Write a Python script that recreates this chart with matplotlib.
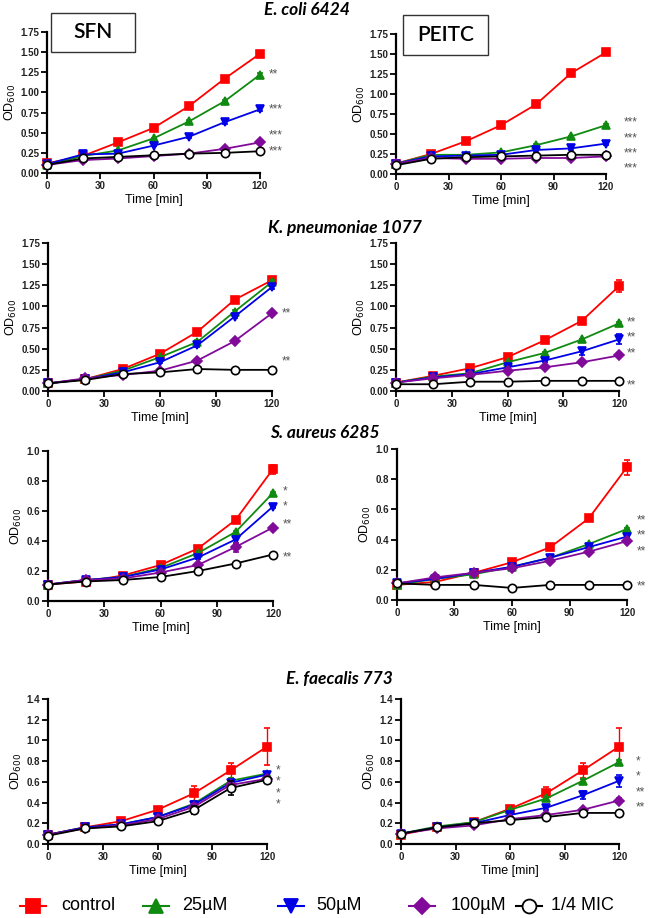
import matplotlib
matplotlib.use("Agg")
import matplotlib.pyplot as plt
from matplotlib.patches import Rectangle
from matplotlib.lines import Line2D

# time points [min]
times = [0, 20, 40, 60, 80, 100, 120]
series_names = ["control", "25\u00b5M", "50\u00b5M", "100\u00b5M", "1/4 MIC"]

# OD600 per panel, rows: control, 25uM, 50uM, 100uM, 1/4 MIC
ecoli_sfn = [
    [0.12, 0.21, 0.38, 0.56, 0.83, 1.17, 1.48],
    [0.10, 0.21, 0.28, 0.43, 0.64, 0.89, 1.22],
    [0.11, 0.23, 0.24, 0.34, 0.45, 0.63, 0.79],
    [0.10, 0.16, 0.18, 0.21, 0.24, 0.30, 0.38],
    [0.10, 0.18, 0.20, 0.22, 0.24, 0.25, 0.27],
]
ecoli_peitc = [
    [0.13, 0.25, 0.41, 0.61, 0.87, 1.26, 1.52],
    [0.13, 0.24, 0.24, 0.27, 0.36, 0.47, 0.61],
    [0.13, 0.22, 0.23, 0.24, 0.30, 0.32, 0.38],
    [0.13, 0.20, 0.19, 0.19, 0.20, 0.20, 0.22],
    [0.11, 0.19, 0.21, 0.22, 0.23, 0.24, 0.24],
]
kpn_sfn = [
    [0.09, 0.14, 0.26, 0.44, 0.70, 1.08, 1.31],
    [0.09, 0.14, 0.24, 0.40, 0.58, 0.94, 1.29],
    [0.09, 0.14, 0.22, 0.34, 0.54, 0.88, 1.23],
    [0.09, 0.15, 0.19, 0.24, 0.36, 0.59, 0.92],
    [0.09, 0.13, 0.20, 0.22, 0.26, 0.25, 0.25],
]
kpn_peitc = [
    [0.10, 0.18, 0.27, 0.40, 0.60, 0.83, 1.24],
    [0.10, 0.17, 0.21, 0.34, 0.45, 0.61, 0.80],
    [0.10, 0.16, 0.20, 0.28, 0.36, 0.47, 0.61],
    [0.10, 0.15, 0.19, 0.24, 0.28, 0.34, 0.42],
    [0.08, 0.08, 0.11, 0.11, 0.12, 0.12, 0.12],
]
saur_sfn = [
    [0.11, 0.13, 0.17, 0.24, 0.35, 0.54, 0.88],
    [0.11, 0.14, 0.16, 0.22, 0.32, 0.46, 0.72],
    [0.11, 0.14, 0.16, 0.21, 0.29, 0.41, 0.63],
    [0.11, 0.14, 0.15, 0.19, 0.24, 0.36, 0.49],
    [0.11, 0.13, 0.14, 0.16, 0.20, 0.25, 0.31],
]
saur_peitc = [
    [0.10, 0.12, 0.18, 0.25, 0.35, 0.54, 0.88],
    [0.10, 0.14, 0.17, 0.22, 0.28, 0.37, 0.47],
    [0.11, 0.14, 0.18, 0.22, 0.28, 0.35, 0.42],
    [0.11, 0.15, 0.18, 0.21, 0.26, 0.32, 0.39],
    [0.11, 0.10, 0.10, 0.08, 0.10, 0.10, 0.10],
]
efae_sfn = [
    [0.09, 0.16, 0.22, 0.33, 0.49, 0.71, 0.94],
    [0.09, 0.16, 0.19, 0.26, 0.39, 0.61, 0.68],
    [0.09, 0.16, 0.19, 0.26, 0.38, 0.59, 0.67],
    [0.09, 0.15, 0.18, 0.24, 0.36, 0.57, 0.63],
    [0.08, 0.15, 0.17, 0.22, 0.33, 0.54, 0.62],
]
efae_peitc = [
    [0.09, 0.16, 0.21, 0.34, 0.49, 0.71, 0.94],
    [0.10, 0.17, 0.21, 0.33, 0.44, 0.61, 0.79],
    [0.10, 0.16, 0.20, 0.28, 0.35, 0.47, 0.61],
    [0.10, 0.15, 0.18, 0.24, 0.28, 0.33, 0.42],
    [0.10, 0.16, 0.20, 0.23, 0.26, 0.30, 0.30],
]

# SEM error bars (same layout)
ecoli_sfn_err = [
    [0.01, 0.01, 0.02, 0.02, 0.02, 0.04, 0.02],
    [0.01, 0.01, 0.01, 0.01, 0.02, 0.02, 0.02],
    [0.01, 0.01, 0.01, 0.01, 0.01, 0.02, 0.02],
    [0.01, 0.01, 0.01, 0.01, 0.01, 0.01, 0.01],
    [0.01, 0.01, 0.01, 0.01, 0.01, 0.01, 0.01],
]
ecoli_peitc_err = [
    [0.01, 0.01, 0.02, 0.02, 0.02, 0.02, 0.03],
    [0.01, 0.01, 0.01, 0.01, 0.01, 0.01, 0.02],
    [0.01, 0.01, 0.01, 0.01, 0.02, 0.02, 0.02],
    [0.01, 0.01, 0.01, 0.01, 0.01, 0.01, 0.01],
    [0.01, 0.01, 0.01, 0.01, 0.01, 0.02, 0.01],
]
kpn_sfn_err = [
    [0.01, 0.01, 0.01, 0.02, 0.02, 0.03, 0.02],
    [0.01, 0.01, 0.01, 0.01, 0.02, 0.02, 0.02],
    [0.01, 0.01, 0.01, 0.01, 0.02, 0.02, 0.02],
    [0.01, 0.01, 0.01, 0.01, 0.01, 0.01, 0.01],
    [0.01, 0.01, 0.01, 0.01, 0.01, 0.01, 0.01],
]
kpn_peitc_err = [
    [0.01, 0.01, 0.01, 0.02, 0.02, 0.03, 0.07],
    [0.01, 0.01, 0.01, 0.01, 0.01, 0.01, 0.02],
    [0.01, 0.01, 0.01, 0.01, 0.02, 0.04, 0.06],
    [0.01, 0.01, 0.01, 0.01, 0.01, 0.01, 0.02],
    [0.01, 0.01, 0.01, 0.01, 0.01, 0.01, 0.01],
]
saur_sfn_err = [
    [0.01, 0.01, 0.01, 0.01, 0.01, 0.02, 0.03],
    [0.01, 0.01, 0.01, 0.01, 0.01, 0.01, 0.01],
    [0.01, 0.01, 0.01, 0.01, 0.01, 0.02, 0.01],
    [0.01, 0.01, 0.01, 0.01, 0.01, 0.03, 0.01],
    [0.01, 0.01, 0.01, 0.01, 0.01, 0.01, 0.01],
]
saur_peitc_err = [
    [0.01, 0.01, 0.01, 0.02, 0.01, 0.01, 0.05],
    [0.01, 0.01, 0.01, 0.01, 0.01, 0.01, 0.01],
    [0.01, 0.01, 0.01, 0.01, 0.01, 0.01, 0.01],
    [0.01, 0.01, 0.01, 0.01, 0.01, 0.01, 0.01],
    [0.01, 0.01, 0.01, 0.01, 0.01, 0.01, 0.01],
]
efae_sfn_err = [
    [0.01, 0.01, 0.02, 0.03, 0.07, 0.07, 0.18],
    [0.01, 0.01, 0.01, 0.02, 0.03, 0.03, 0.02],
    [0.01, 0.01, 0.01, 0.02, 0.03, 0.03, 0.02],
    [0.01, 0.01, 0.01, 0.02, 0.03, 0.03, 0.02],
    [0.01, 0.01, 0.01, 0.02, 0.04, 0.07, 0.02],
]
efae_peitc_err = [
    [0.01, 0.01, 0.01, 0.02, 0.06, 0.07, 0.18],
    [0.01, 0.01, 0.01, 0.01, 0.01, 0.02, 0.02],
    [0.01, 0.01, 0.01, 0.01, 0.02, 0.04, 0.06],
    [0.01, 0.01, 0.01, 0.01, 0.01, 0.02, 0.02],
    [0.01, 0.01, 0.01, 0.01, 0.01, 0.01, 0.01],
]

# significance labels next to the end points: (label, y position)
ecoli_sfn_sig = [("**", 1.22), ("***", 0.79), ("***", 0.46), ("***", 0.27)]
ecoli_peitc_sig = [("***", 0.65), ("***", 0.45), ("***", 0.26), ("***", 0.07)]
kpn_sfn_sig = [("**", 0.92), ("**", 0.35)]
kpn_peitc_sig = [("**", 0.81), ("**", 0.63), ("**", 0.44), ("**", 0.06)]
saur_sfn_sig = [("*", 0.73), ("*", 0.63), ("**", 0.51), ("**", 0.29)]
saur_peitc_sig = [("**", 0.53), ("**", 0.43), ("**", 0.32), ("**", 0.09)]
efae_sfn_sig = [("*", 0.71), ("*", 0.60), ("*", 0.49), ("*", 0.38)]
efae_peitc_sig = [("*", 0.80), ("*", 0.65), ("**", 0.50), ("**", 0.35)]

colors = ["#ff0000", "#118a11", "#0000e6", "#820a9a", "#000000"]
markers = ["s", "^", "v", "D", "o"]

W, H = 648, 918
plt.rcParams["font.family"] = ["Liberation Sans", "DejaVu Sans"]
fig = plt.figure(figsize=(W / 100, H / 100), dpi=100)


def px_axes(l, r, t, b):
    return fig.add_axes([l / W, 1 - b / H, (r - l) / W, (b - t) / H])


def draw_panel(ax, data, err, sig, ymax, ystep, fmt, sig_dx):
    for i in range(5):
        face = "white" if i == 4 else colors[i]
        ax.errorbar(times, data[i], yerr=err[i], color=colors[i], lw=1.3,
                    marker=markers[i], ms=6 if i != 3 else 5,
                    mfc=face, mec=colors[i], mew=1.2,
                    elinewidth=1.0, capsize=2.5, capthick=1.0,
                    clip_on=False, zorder=3 + i)
    ax.set_xlim(0, 120)
    ax.set_ylim(0, ymax)
    ax.set_xticks([0, 30, 60, 90, 120])
    n = int(round(ymax / ystep))
    ax.set_yticks([k * ystep for k in range(n + 1)])
    ax.set_yticklabels([fmt.format(k * ystep) for k in range(n + 1)])
    for s in ["top", "right"]:
        ax.spines[s].set_visible(False)
    for s in ["left", "bottom"]:
        ax.spines[s].set_linewidth(1.6)
    ax.tick_params(direction="out", length=4, width=1.3, pad=1.5,
                   labelsize=7)
    for lab in ax.get_xticklabels() + ax.get_yticklabels():
        lab.set_fontweight("bold")
        lab.set_color("#222222")
    ax.set_xlabel("Time [min]", fontsize=9, labelpad=2.5)
    ax.set_ylabel("OD$_{600}$", fontsize=9, labelpad=2)
    for txt, y in sig:
        ax.text(120 + sig_dx, y, txt, fontsize=8.5, color="#555555",
                va="center", ha="left", clip_on=False)


panels = [
    ((47, 260, 32, 173), ecoli_sfn, ecoli_sfn_err, ecoli_sfn_sig, 1.75, 0.25, "{:.2f}", 5),
    ((396, 606, 34, 174), ecoli_peitc, ecoli_peitc_err, ecoli_peitc_sig, 1.75, 0.25, "{:.2f}", 10),
    ((48, 272, 243, 391), kpn_sfn, kpn_sfn_err, kpn_sfn_sig, 1.75, 0.25, "{:.2f}", 5),
    ((396, 619, 243, 391), kpn_peitc, kpn_peitc_err, kpn_peitc_sig, 1.75, 0.25, "{:.2f}", 4),
    ((48, 273, 451, 601), saur_sfn, saur_sfn_err, saur_sfn_sig, 1.0, 0.2, "{:.1f}", 5),
    ((397, 627, 449, 600), saur_peitc, saur_peitc_err, saur_peitc_sig, 1.0, 0.2, "{:.1f}", 5),
    ((48, 267, 699, 844), efae_sfn, efae_sfn_err, efae_sfn_sig, 1.4, 0.2, "{:.1f}", 5),
    ((401, 619, 699, 844), efae_peitc, efae_peitc_err, efae_peitc_sig, 1.4, 0.2, "{:.1f}", 9),
]

for box, data, err, sig, ymax, ystep, fmt, dx in panels:
    ax = px_axes(*box)
    draw_panel(ax, data, err, sig, ymax, ystep, fmt, dx)

# strain titles
titles = [("E. coli 6424", 307, 10), ("K. pneumoniae 1077", 345, 228),
          ("S. aureus 6285", 325, 433), ("E. faecalis 773", 339, 679)]
for t, x, y in titles:
    fig.text(x / W, 1 - y / H, t, ha="center", va="center", fontsize=12.5,
             fontweight="bold", fontstyle="italic", family=["Lato", "DejaVu Sans"])

# compound boxes
for label, l, r, t, b in [("SFN", 51, 135, 13, 52), ("PEITC", 403, 488, 15, 55)]:
    fig.add_artist(Rectangle((l / W, 1 - b / H), (r - l) / W, (b - t) / H,
                             transform=fig.transFigure, fill=False,
                             lw=1.0, ec="#333333"))
    fig.text((l + r) / 2 / W, 1 - (t + b) / 2 / H, label, ha="center",
             va="center", fontsize=15, fontweight="semibold",
             family=["Lato", "DejaVu Sans"])

# legend row, hand placed like the original figure
leg_marker_x = [33, 156, 291, 422, 529]
leg_text_x = [61, 182, 316, 451, 551]
leg_y = 1 - 906 / H
for i in range(5):
    xm = leg_marker_x[i] / W
    fig.add_artist(Line2D([xm - 13 / W, xm + 13 / W], [leg_y, leg_y],
                          transform=fig.transFigure, color=colors[i], lw=1.5))
    fig.add_artist(Line2D([xm], [leg_y], transform=fig.transFigure,
                          color=colors[i], marker=markers[i],
                          ms=10 if i != 3 else 8.5,
                          mfc="white" if i == 4 else colors[i],
                          mec=colors[i], mew=1.3, lw=0))
    fig.text(leg_text_x[i] / W, leg_y, series_names[i], fontsize=13,
             va="center", ha="left")

fig.savefig("out.png", dpi=100)
